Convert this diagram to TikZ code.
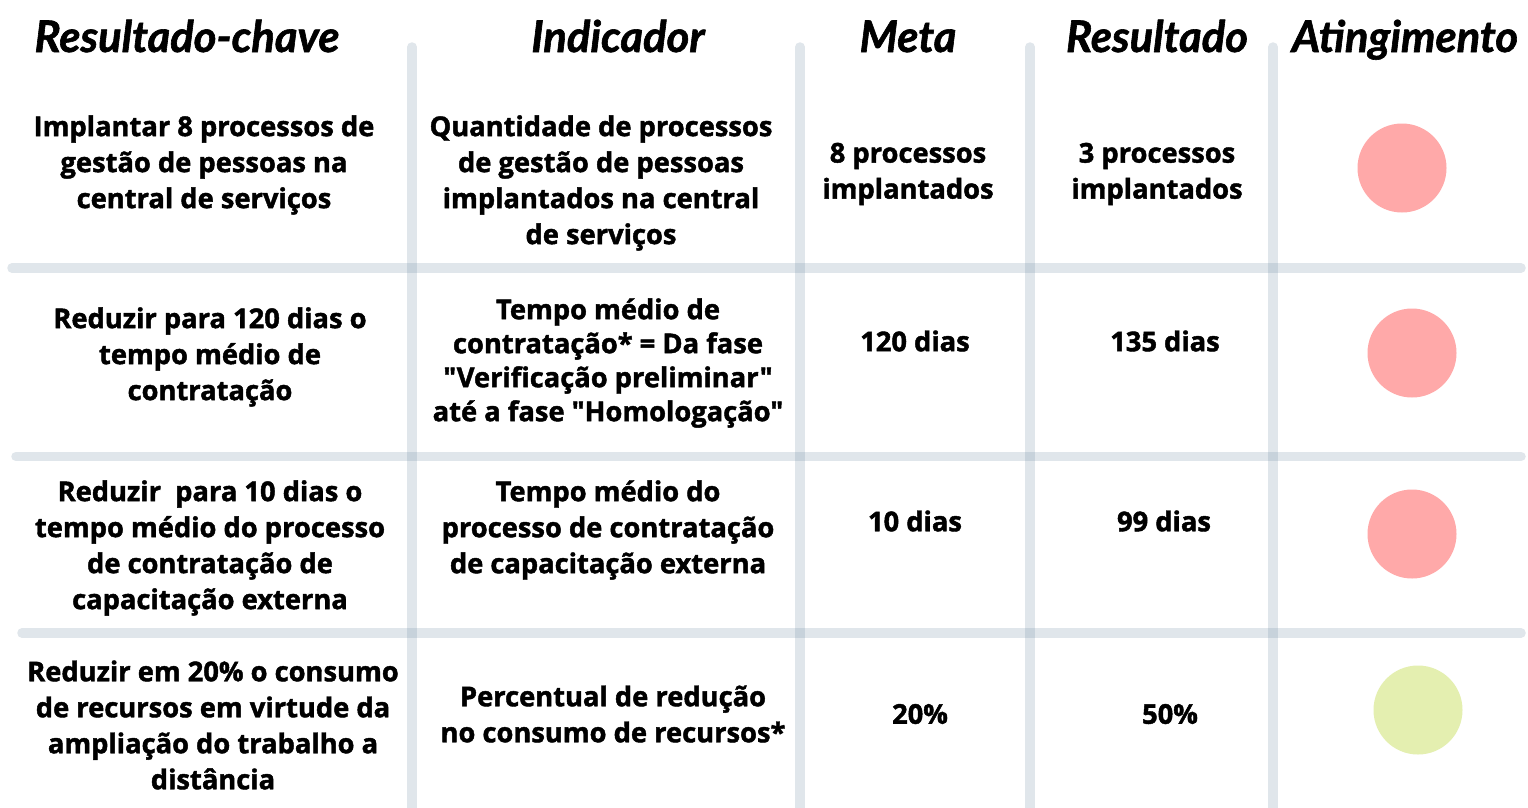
\documentclass[tikz,border=0pt]{standalone}
\usepackage{fontspec}
\setmainfont{Open Sans}[Ligatures=TeXOff,BoldFeatures={FakeBold=1.6}]
\newfontfamily\headfont{Lato}[BoldItalicFeatures={FakeBold=1.4}]
\definecolor{gridc}{RGB}{100,130,155}
\definecolor{redc}{RGB}{255,169,169}
\definecolor{greenc}{RGB}{228,239,176}
\newcommand{\dq}{\symbol{34}}
\begin{document}
\begin{tikzpicture}[x=1pt,y=-1pt,
  gridline/.style={line width=9.5pt,draw=gridc,draw opacity=0.2,line cap=round},
  head/.style={anchor=base,inner sep=0pt,font={\headfont\fontsize{43.5}{50}\selectfont\bfseries\itshape}},
  body/.style={align=center,inner sep=0pt,font={\fontsize{27.3}{36}\selectfont\bfseries}},
  bodyb/.style={align=center,inner sep=0pt,font={\fontsize{27.3}{34}\selectfont\bfseries}},
  dot/.style={circle,minimum size=89pt,inner sep=0pt,draw=none}]
\useasboundingbox[fill=white] (0,0) rectangle (1528,807);
% grid coordinates
\coordinate (v1t) at (412,47); \coordinate (v1b) at (412,830);
\coordinate (v2t) at (800,47); \coordinate (v2b) at (800,830);
\coordinate (v3t) at (1030,47); \coordinate (v3b) at (1030,830);
\coordinate (v4t) at (1273,47); \coordinate (v4b) at (1273,830);
\coordinate (h1l) at (12,268); \coordinate (h1r) at (1521,268);
\coordinate (h2l) at (16,456.5); \coordinate (h2r) at (1521,456.5);
\coordinate (h3l) at (22,633); \coordinate (h3r) at (1521,633);
\draw[gridline] (v1t) -- (v1b);
\draw[gridline] (v2t) -- (v2b);
\draw[gridline] (v3t) -- (v3b);
\draw[gridline] (v4t) -- (v4b);
\draw[gridline] (h1l) -- (h1r);
\draw[gridline] (h2l) -- (h2r);
\draw[gridline] (h3l) -- (h3r);
% headers
\node[head] (hd1) at (187,52) {Resultado-chave};
\node[head] (hd2) at (618,52) {Indicador};
\node[head] (hd3) at (908,52) {Meta};
\node[head] (hd4) at (1157,52) {Resultado};
\node[head] (hd5) at (1405,52) {Atingimento};
% row 1
\node[body] (r1c1) at (204,165) {Implantar 8 processos de\\gestão de pessoas na\\central de serviços};
\node[body] (r1c2) at (601,183) {Quantidade de processos\\de gestão de pessoas\\implantados na central\\de serviços};
\node[body] (r1c3) at (908,174) {8 processos\\implantados};
\node[body] (r1c4) at (1157,174) {3 processos\\implantados};
\node[dot,fill=redc] (r1c5) at (1402,168) {};
% row 2
\node[body] (r2c1) at (210,357) {Reduzir para 120 dias o\\tempo médio de\\contratação};
\node[bodyb] (r2c2) at (608,363) {Tempo médio de\\contratação* = Da fase\\\dq Verificação preliminar\dq\\até a fase \dq Homologação\dq};
\node[body] (r2c3) at (915,341) {120 dias};
\node[body] (r2c4) at (1165,341) {135 dias};
\node[dot,fill=redc] (r2c5) at (1412,353) {};
% row 3
\node[body] (r3c1) at (210,548) {Reduzir\ \ para 10 dias o\\tempo médio do processo\\de contratação de\\capacitação externa};
\node[body] (r3c2) at (608,530) {Tempo médio do\\processo de contratação\\de capacitação externa};
\node[body] (r3c3) at (915,521) {10 dias};
\node[body] (r3c4) at (1164,521) {99 dias};
\node[dot,fill=redc] (r3c5) at (1412,534) {};
% row 4
\node[body] (r4c1) at (213,725) {Reduzir em 20\% o consumo\\de recursos em virtude da\\ampliação do trabalho a\\distância};
\node[body] (r4c2) at (613,714) {Percentual de redução\\no consumo de recursos*};
\node[body] (r4c3) at (920,714) {20\%};
\node[body] (r4c4) at (1170,714) {50\%};
\node[dot,fill=greenc] (r4c5) at (1418,710) {};
\end{tikzpicture}
\end{document}
